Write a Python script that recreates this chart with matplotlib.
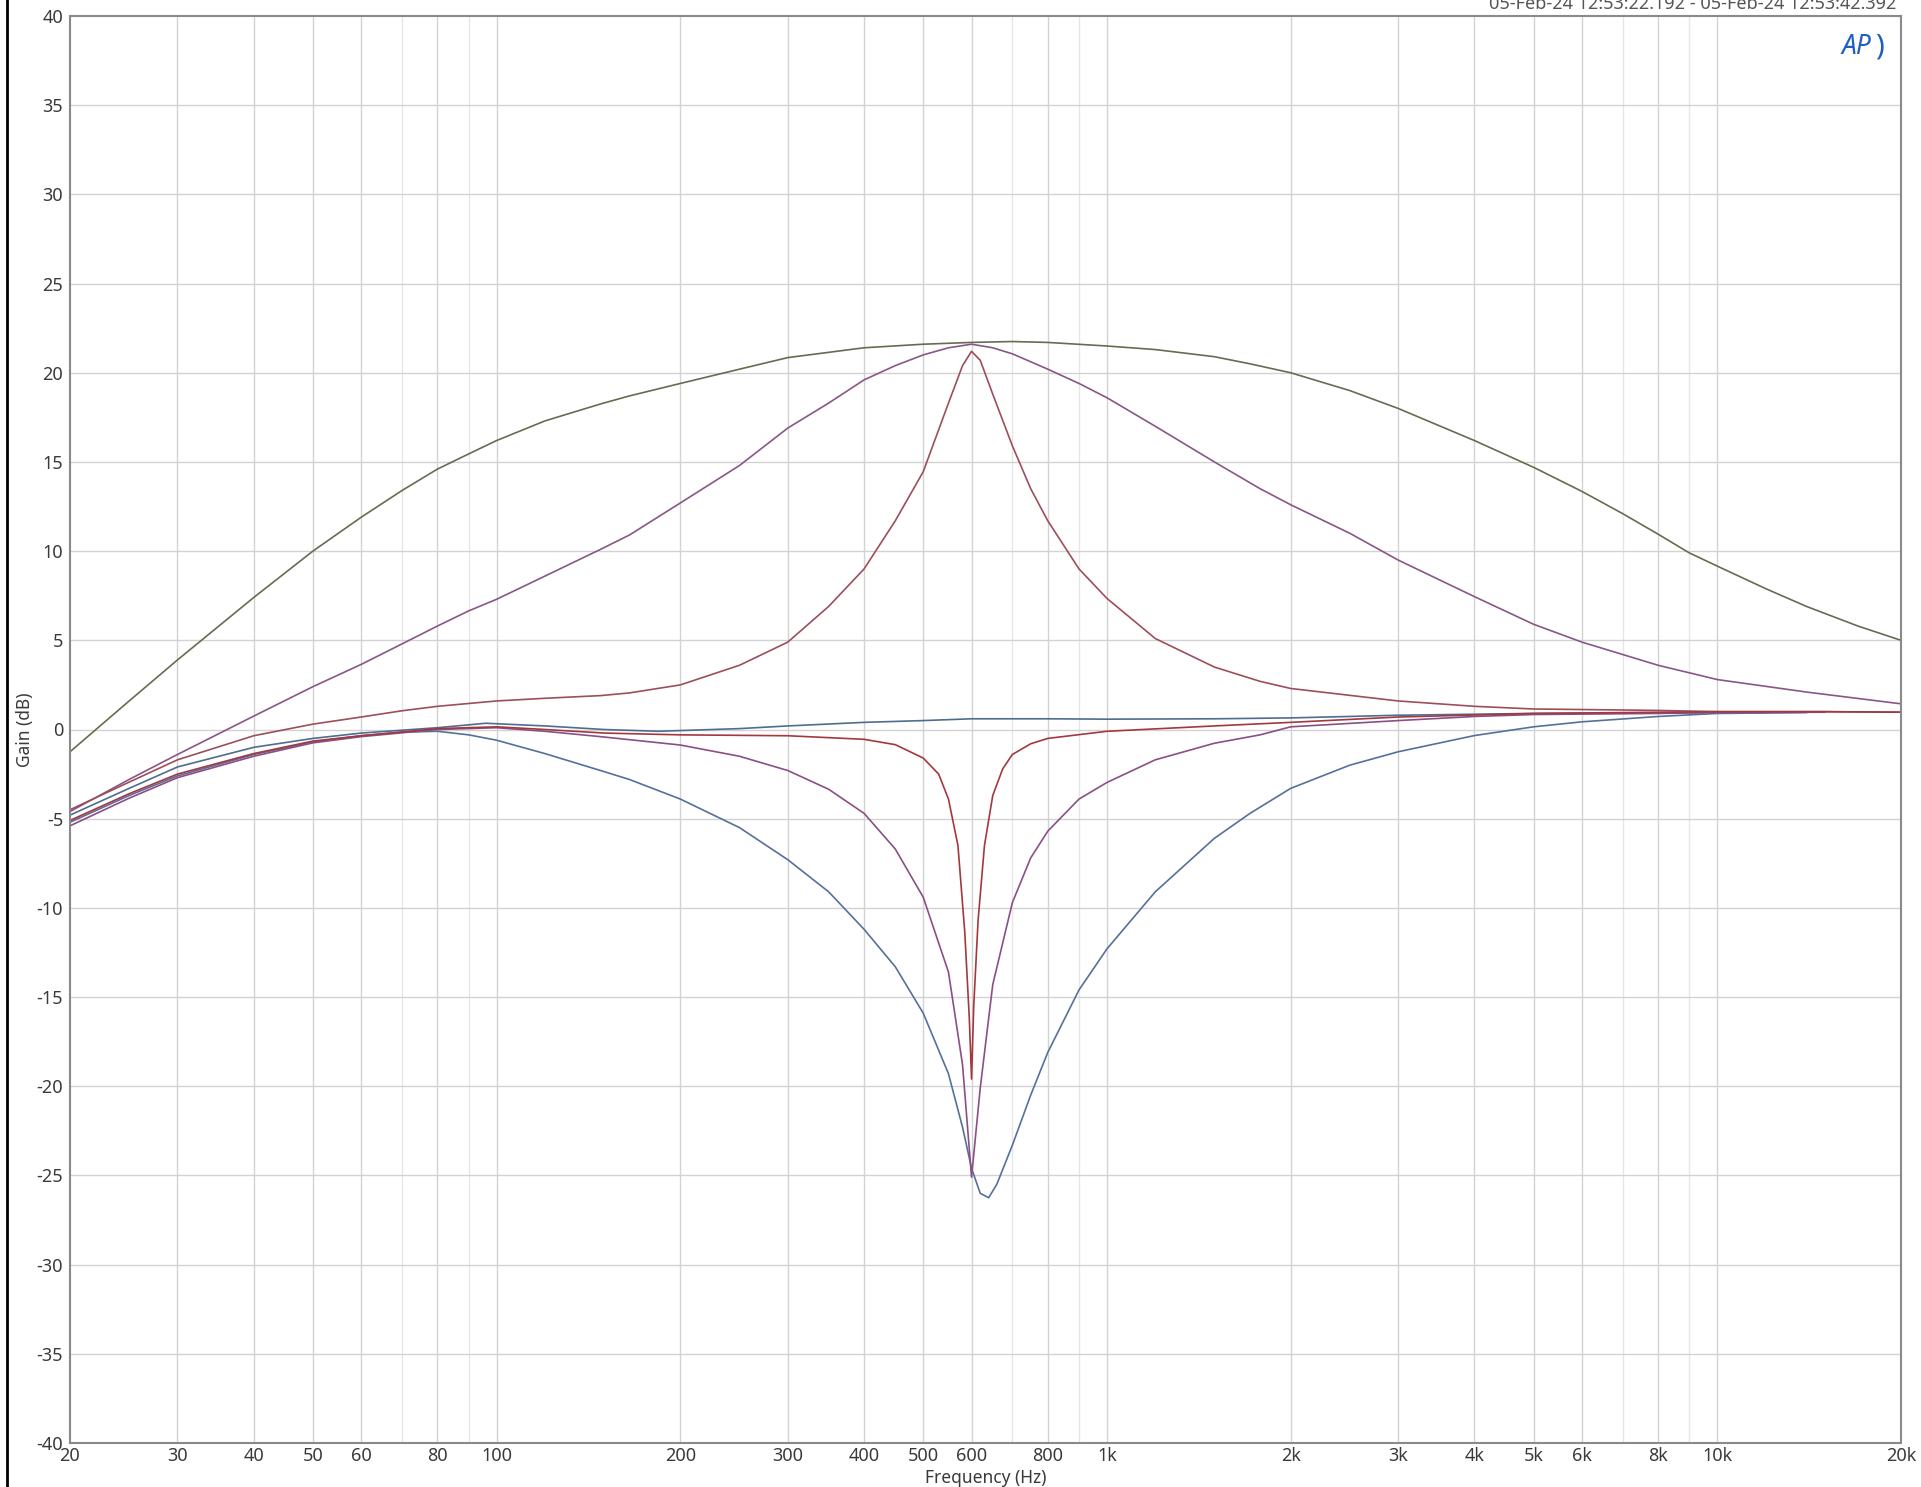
"""
Parametric EQ sweep at 600 Hz - boost / cut at three Q settings
Gain vs frequency, log axis, AP-style layout
"""

import matplotlib
matplotlib.use('Agg')
import matplotlib.pyplot as plt
from matplotlib.lines import Line2D

# ============================================================
# DATA - gain (dB) at measured frequencies (Hz)
# ============================================================
wide_boost_f = [20, 25, 30, 40, 50, 60, 70, 80, 90, 100, 120, 148, 165, 200, 250, 300, 400, 500,
                600, 700, 800, 1000, 1200, 1500, 1716, 2000, 2500, 3000, 4000, 5000, 6000, 7000,
                8000, 9000, 10000, 12000, 14000, 17000, 20000]
wide_boost_db = [-1.25, 1.6, 3.9, 7.4, 10.0, 11.9, 13.4, 14.6, 15.45, 16.2, 17.3, 18.25, 18.7, 19.4,
                 20.2, 20.85, 21.4, 21.6, 21.7, 21.75, 21.7, 21.5, 21.3, 20.9, 20.5, 20.0, 19.0,
                 18.0, 16.2, 14.7, 13.35, 12.1, 10.95, 9.9, 9.16, 7.9, 6.9, 5.8, 5.0]

mid_boost_f = [20, 25, 30, 40, 50, 60, 70, 80, 90, 100, 120, 148, 165, 200, 250, 300, 350, 400,
               450, 500, 550, 600, 650, 700, 800, 900, 1000, 1200, 1500, 1782, 2000, 2500, 3000,
               4000, 5000, 6000, 8000, 10000, 14000, 20000]
mid_boost_db = [-4.6, -2.8, -1.4, 0.75, 2.4, 3.65, 4.8, 5.8, 6.65, 7.3, 8.6, 10.1, 10.9, 12.7,
                14.8, 16.9, 18.3, 19.6, 20.4, 21.0, 21.4, 21.6, 21.4, 21.06, 20.2, 19.4, 18.6,
                17.0, 15.0, 13.5, 12.6, 11.0, 9.5, 7.45, 5.9, 4.9, 3.6, 2.8, 2.1, 1.44]

narrow_boost_f = [20, 25, 30, 40, 50, 60, 70, 80, 100, 120, 148, 165, 200, 250, 300, 350, 400,
                  450, 500, 550, 580, 600, 620, 650, 700, 750, 800, 900, 1000, 1200, 1500, 1782,
                  2000, 3000, 4000, 5000, 8000, 10000, 15000, 20000]
narrow_boost_db = [-4.5, -2.95, -1.7, -0.35, 0.3, 0.7, 1.05, 1.3, 1.6, 1.75, 1.9, 2.05, 2.5, 3.6,
                   4.9, 6.9, 9.0, 11.7, 14.45, 18.3, 20.4, 21.2, 20.7, 18.8, 15.9, 13.5, 11.7,
                   9.0, 7.35, 5.1, 3.5, 2.7, 2.3, 1.6, 1.3, 1.15, 1.07, 1.0, 1.0, 0.97]

flat_f = [20, 25, 30, 40, 50, 60, 80, 96, 120, 150, 184, 250, 300, 400, 500, 600, 800, 1000,
          1500, 2000, 3000, 5000, 10000, 14000]
flat_db = [-4.8, -3.3, -2.1, -1.0, -0.5, -0.2, 0.1, 0.35, 0.2, 0.0, -0.1, 0.05, 0.2, 0.4, 0.5,
           0.6, 0.6, 0.58, 0.6, 0.65, 0.8, 0.9, 0.95, 0.97]

narrow_cut_f = [20, 25, 30, 40, 50, 60, 80, 100, 120, 150, 200, 300, 400, 450, 500, 530, 550,
                570, 585, 595, 600, 605, 615, 630, 650, 675, 700, 750, 800, 1000, 1500, 2000,
                3000, 5000, 10000, 15000, 20000]
narrow_cut_db = [-5.1, -3.6, -2.5, -1.35, -0.65, -0.35, 0.05, 0.15, 0.0, -0.2, -0.3, -0.35,
                 -0.55, -0.85, -1.6, -2.5, -3.9, -6.5, -11.4, -16.2, -19.6, -15.5, -10.7, -6.5,
                 -3.7, -2.2, -1.4, -0.8, -0.5, -0.1, 0.2, 0.4, 0.7, 0.9, 1.0, 1.0, 0.97]

mid_cut_f = [20, 25, 30, 40, 50, 60, 80, 100, 120, 148, 200, 250, 300, 350, 400, 450, 500, 550,
             580, 600, 620, 650, 700, 750, 800, 900, 1000, 1200, 1500, 1782, 2000, 3000, 4000,
             5000, 8000, 10000, 15000]
mid_cut_db = [-5.4, -3.85, -2.7, -1.5, -0.75, -0.4, 0.0, 0.1, -0.1, -0.4, -0.87, -1.5, -2.3,
              -3.35, -4.7, -6.7, -9.4, -13.6, -18.8, -25.1, -20.1, -14.3, -9.7, -7.2, -5.7,
              -3.9, -2.97, -1.7, -0.77, -0.3, 0.15, 0.5, 0.73, 0.84, 0.9, 0.95, 0.97]

wide_cut_f = [20, 25, 30, 40, 50, 60, 70, 80, 90, 100, 120, 148, 165, 200, 250, 300, 350, 400,
              450, 500, 550, 580, 600, 620, 640, 660, 700, 750, 800, 900, 1000, 1200, 1500, 1716,
              2000, 2500, 3000, 4000, 5000, 6000, 8000, 10000, 14000]
wide_cut_db = [-5.2, -3.7, -2.6, -1.4, -0.7, -0.35, -0.15, -0.1, -0.3, -0.6, -1.35, -2.3, -2.8,
               -3.9, -5.5, -7.3, -9.1, -11.2, -13.3, -15.9, -19.3, -22.3, -24.6, -26.0, -26.25,
               -25.5, -23.3, -20.5, -18.1, -14.6, -12.3, -9.1, -6.1, -4.7, -3.3, -2.0, -1.25,
               -0.34, 0.15, 0.43, 0.73, 0.9, 0.95]

curves = [
    (wide_boost_f, wide_boost_db, '#6a6a52'),
    (mid_boost_f, mid_boost_db, '#895688'),
    (narrow_boost_f, narrow_boost_db, '#9c4f5a'),
    (flat_f, flat_db, '#4d6e8e'),
    (wide_cut_f, wide_cut_db, '#55709a'),
    (mid_cut_f, mid_cut_db, '#8a4f86'),
    (narrow_cut_f, narrow_cut_db, '#a3383f'),
]

x_ticks = [20, 30, 40, 50, 60, 80, 100, 200, 300, 400, 500, 600, 800, 1000, 2000, 3000, 4000,
           5000, 6000, 8000, 10000, 20000]
x_tick_labels = ['20', '30', '40', '50', '60', '80', '100', '200', '300', '400', '500', '600',
                 '800', '1k', '2k', '3k', '4k', '5k', '6k', '8k', '10k', '20k']
x_minor = [70, 90, 700, 900, 7000, 9000]
y_ticks = list(range(-40, 45, 5))

# ============================================================
# PLOT
# ============================================================
plt.rcParams['font.family'] = ['Noto Sans', 'DejaVu Sans']

fig = plt.figure(figsize=(19.21, 14.87), dpi=100)
ax = fig.add_axes([70 / 1921, 1 - 1443 / 1487, 1831 / 1921, 1427 / 1487])

ax.set_xscale('log')
ax.set_xlim(20, 20000)
ax.set_ylim(-40, 40)

for xv in x_ticks[1:-1]:
    ax.axvline(xv, color='#d2d2d2', lw=1.0, zorder=0)
for xv in x_minor:
    ax.axvline(xv, color='#e6e6e6', lw=1.0, zorder=0)
for yv in y_ticks[1:-1]:
    ax.axhline(yv, color='#d2d2d2', lw=1.0, zorder=0)

for f, g, c in curves:
    ax.plot(f, g, color=c, lw=1.2, zorder=2)

ax.set_xticks(x_ticks)
ax.set_xticklabels(x_tick_labels)
ax.xaxis.set_minor_locator(matplotlib.ticker.NullLocator())
ax.set_yticks(y_ticks)
ax.set_yticklabels([str(v) for v in y_ticks])
ax.tick_params(axis='both', length=0, labelsize=13, colors='#3a3a3a')
ax.tick_params(axis='x', pad=3)
ax.tick_params(axis='y', pad=5)

for sp in ax.spines.values():
    sp.set_color('#8a8a8a')
    sp.set_linewidth(1.5)

ax.set_xlabel('Frequency (Hz)', fontsize=12.5, color='#3a3a3a', labelpad=3)
ax.set_ylabel('Gain (dB)', fontsize=12.5, color='#3a3a3a', labelpad=2)

# timestamp header, partly clipped at the top edge
fig.text(1896 / 1921, 1 - 9 / 1487, '05-Feb-24 12:53:22.192 - 05-Feb-24 12:53:42.392',
         ha='right', va='baseline', fontsize=13, color='#555555')

# AP logo
ax.text(0.984, 0.978, 'AP', transform=ax.transAxes, ha='right', va='center', fontsize=19,
        fontstyle='italic', fontweight='bold', color='#1f5fbf')
ax.text(0.9905, 0.978, ')', transform=ax.transAxes, ha='right', va='center', fontsize=21,
        fontweight='bold', color='#1f5fbf')

# window border on the left
fig.add_artist(Line2D([7 / 1921, 7 / 1921], [0, 1], transform=fig.transFigure,
                      color='black', lw=2))

plt.savefig('out.png', dpi=100)
